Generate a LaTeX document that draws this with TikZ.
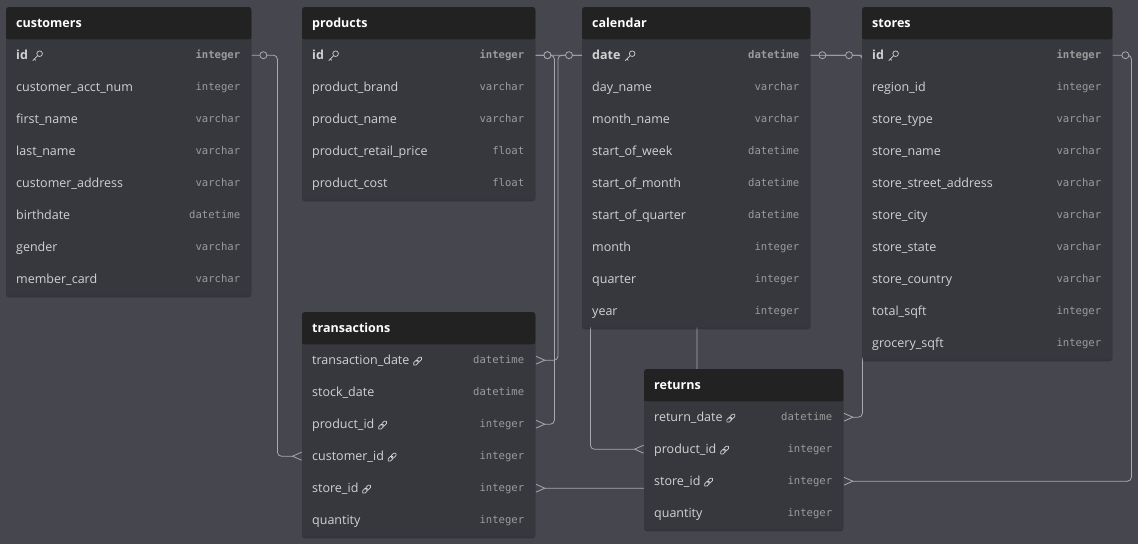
\documentclass[tikz,border=0pt]{standalone}
\usepackage{fontspec}
\setmainfont{Open Sans}
\newfontfamily\typemono{DejaVu Sans Mono}
\usepackage{tikz}
\usetikzlibrary{calc, positioning, arrows.meta, shadows}
\pgfdeclarelayer{bg}
\pgfdeclarelayer{conn}
\pgfdeclarelayer{tbl}
\pgfsetlayers{bg,conn,tbl,main}

\definecolor{canvasgray}{HTML}{46464F}
\definecolor{bodygray}{HTML}{37373E}
\definecolor{headblack}{HTML}{222222}
\definecolor{fieldgray}{HTML}{D2D2D2}
\definecolor{typegray}{HTML}{9C9C9C}
\definecolor{linegray}{HTML}{A8A8AF}

% table: name, x, y, width, title, rows (field/type/kind, kind 1 = key, 2 = link)
\newcommand{\erdtable}[6]{%
  \node[tablehead, minimum width=#4pt, anchor=north west] (#1) at (#2,#3) {};
  \node[titletext] at ([xshift=10pt, yshift=-1pt]#1.west) {#5};
  \foreach \fld/\typ/\kind [count=\i] in {#6} {
    \node[tablerow, minimum width=#4pt, anchor=north west] (#1-\i) at (#2,{#3+32*\i}) {};
    \node[fieldtext] (#1-\i-f) at ([xshift=10pt, yshift=-1pt]#1-\i.west) {\ifnum\kind=1 \bfseries\fi\fld};
    \node[typetext] at ([xshift=-11pt, yshift=-1pt]#1-\i.east) {\ifnum\kind=1 \bfseries\fi\typ};
    \ifnum\kind=1 \pic at ([xshift=9pt]#1-\i-f.east) {keyicon};\fi
    \ifnum\kind=2 \pic at ([xshift=8pt]#1-\i-f.east) {linkicon};\fi
    \xdef\lastrow{\i}
  }
  \begin{pgfonlayer}{tbl}
    \fill[tablebody] (#1.north west) rectangle (#1-\lastrow.south east);
    \fill[headblack, rounded corners=3pt] (#1.north west) rectangle (#1.south east);
    \fill[headblack] ([yshift=4pt]#1.south west) rectangle (#1.south east);
  \end{pgfonlayer}
}

\begin{document}
\begin{tikzpicture}
  [x=1pt, y=-1pt,
   tablehead/.style={rectangle, minimum height=32pt, inner sep=0pt},
   tablerow/.style={rectangle, minimum height=32pt, inner sep=0pt},
   tablebody/.style={fill=bodygray, rounded corners=3pt,
     drop shadow={shadow xshift=0pt, shadow yshift=-2pt, fill=black, opacity=0.25}},
   titletext/.style={anchor=west, inner sep=0pt, text=white, text height=9pt, text depth=3pt,
     font=\fontsize{12.5}{14}\selectfont\bfseries},
   fieldtext/.style={anchor=west, inner sep=0pt, text=fieldgray, text height=9pt, text depth=3pt,
     font=\fontsize{12.5}{14}\selectfont},
   typetext/.style={anchor=east, inner sep=0pt, text=typegray, text height=8pt, text depth=2.6pt,
     font=\typemono\fontsize{10.6}{12}\selectfont},
   iconline/.style={draw=fieldgray, line width=0.7pt},
   pics/keyicon/.style={code={
     \draw[iconline] (2.5pt,2.5pt) circle (2.8pt);
     \draw[iconline] (0.5pt,0.5pt) -- (-4.4pt,-4.4pt);
     \draw[iconline] (-2.8pt,-2.8pt) -- (-1.4pt,-4.2pt);}},
   pics/linkicon/.style={code={
     \draw[iconline, rotate=45, rounded corners=1.5pt] (-5.3pt,-1.7pt) rectangle (0.8pt,1.7pt);
     \draw[iconline, rotate=45, rounded corners=1.5pt] (-0.8pt,-1.7pt) rectangle (5.3pt,1.7pt);}},
   conn/.style={draw=linegray, line width=0.8pt, rounded corners=4pt},
   many/.style={-{Straight Barb[reversed, length=9pt, width=8pt]}},
   onemark/.style={circle, draw=linegray, fill=canvasgray, line width=0.8pt,
     inner sep=0pt, minimum size=7pt}]

  \useasboundingbox (0,0) rectangle (1138,544);
  \begin{pgfonlayer}{bg}
    \fill[canvasgray] (0,0) rectangle (1138,544);
  \end{pgfonlayer}

  % tables %
  \erdtable{customers}{6}{7}{245}{customers}{id/integer/1, customer\_acct\_num/integer/0,
    first\_name/varchar/0, last\_name/varchar/0, customer\_address/varchar/0,
    birthdate/datetime/0, gender/varchar/0, member\_card/varchar/0}
  \erdtable{products}{302}{7}{233}{products}{id/integer/1, product\_brand/varchar/0,
    product\_name/varchar/0, product\_retail\_price/float/0, product\_cost/float/0}
  \erdtable{calendar}{582}{7}{228}{calendar}{date/datetime/1, day\_name/varchar/0,
    month\_name/varchar/0, start\_of\_week/datetime/0, start\_of\_month/datetime/0,
    start\_of\_quarter/datetime/0, month/integer/0, quarter/integer/0, year/integer/0}
  \erdtable{stores}{862}{7}{250}{stores}{id/integer/1, region\_id/integer/0,
    store\_type/varchar/0, store\_name/varchar/0, store\_street\_address/varchar/0,
    store\_city/varchar/0, store\_state/varchar/0, store\_country/varchar/0,
    total\_sqft/integer/0, grocery\_sqft/integer/0}
  \erdtable{transactions}{302}{312}{233}{transactions}{transaction\_date/datetime/2,
    stock\_date/datetime/0, product\_id/integer/2, customer\_id/integer/2,
    store\_id/integer/2, quantity/integer/0}
  \erdtable{returns}{644}{369}{199}{returns}{return\_date/datetime/2,
    product\_id/integer/2, store\_id/integer/2, quantity/integer/0}

  % edges %
  \begin{pgfonlayer}{conn}
    \draw[conn, many] (customers-1.east) -- ++(12,0) node[onemark] {} -- ++(14,0) |- (transactions-4.west);
    \draw[conn, many] (products-1.east) -- ++(12,0) node[onemark] {} -- ++(7,0) |- (transactions-3.east);
    \draw[conn, many] (products-1.east) -- ++(12,0) node[onemark] {} -- ++(43,0) |- (returns-2.west);
    \draw[conn, many] (calendar-1.west) -- ++(-13,0) node[onemark] {} -- ++(-11,0) |- (transactions-1.east);
    \draw[conn, many] (calendar-1.east) -- ++(12,0) node[onemark] {} -- ++(40,0) |- (returns-1.east);
    \draw[conn, many] (stores-1.west) -- ++(-13,0) node[onemark] {} -- ++(-152,0) |- (transactions-5.east);
    \draw[conn, many] (stores-1.east) -- ++(13,0) node[onemark] {} -- ++(6,0) |- (returns-3.east);
  \end{pgfonlayer}
\end{tikzpicture}
\end{document}
